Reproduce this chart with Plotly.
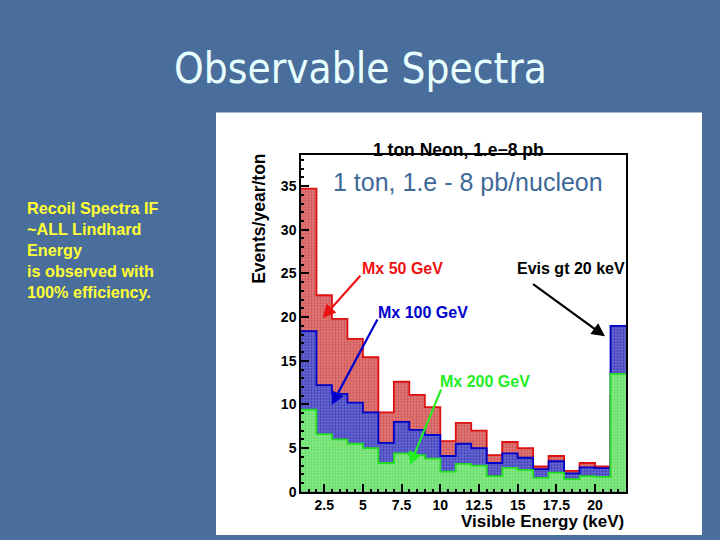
import plotly.graph_objects as go

# Bin lower edges (keV); last bin is overflow "Evis gt 20 keV"
bin_edges = [1, 2, 3, 4, 5, 6, 7, 8, 9, 10, 11, 12, 13, 14, 15, 16, 17, 18, 19, 20, 21, 22]

mx50 = [34.7, 22.5, 19.8, 17.5, 15.4, 9.1, 12.6, 11.1, 9.7, 5.8, 7.9, 7.0,
        4.2, 5.7, 5.0, 2.9, 4.1, 2.4, 3.3, 2.9, 11.0]
mx100 = [18.4, 12.2, 11.2, 10.2, 9.1, 5.6, 8.0, 7.1, 6.5, 4.1, 5.5, 5.0,
         3.3, 4.4, 3.9, 2.6, 3.5, 2.1, 2.8, 2.7, 19.0]
mx200 = [9.4, 6.6, 6.0, 5.5, 5.0, 3.3, 4.4, 4.2, 3.8, 2.3, 3.2, 3.0,
         1.8, 2.75, 2.5, 1.6, 2.2, 1.45, 1.8, 1.7, 13.5]

x_ticks = [2.5, 5, 7.5, 10, 12.5, 15, 17.5, 20]
x_tick_labels = ["2.5", "5", "7.5", "10", "12.5", "15", "17.5", "20"]
y_ticks = [0, 5, 10, 15, 20, 25, 30, 35]

W, H = 720, 540
FIG_H = 550
BG = "#4a6e9b"


def px(xp):
    return xp / W


def py(yp):
    return 1 - yp / H


fig = go.Figure()

series = [
    ("Mx 50 GeV", mx50, "#dd1111", "#c01818", "#e48c8c"),
    ("Mx 100 GeV", mx100, "#0000c8", "#000080", "#7c7ce6"),
    ("Mx 200 GeV", mx200, "#22dd22", "#2ec42e", "#98f098"),
]
for name, vals, lc, fg, bg in series:
    xs = bin_edges
    ys = vals + [vals[-1]]
    fig.add_trace(go.Scatter(
        x=xs, y=ys, mode="lines", line=dict(shape="hv", color=lc, width=1.8),
        fill="tozeroy", fillcolor=bg,
        fillpattern=dict(shape=".", fgcolor=fg, bgcolor=bg, size=3, solidity=0.6),
        name=name, showlegend=False, hoverinfo="skip"))

tick_font = dict(family="Liberation Sans", size=14, color="black", weight="bold")

fig.update_xaxes(
    range=[1, 22], tickvals=x_ticks, ticktext=x_tick_labels,
    domain=[px(301), px(626)],
    showline=True, linecolor="black", linewidth=1.5, mirror=True,
    ticks="inside", ticklen=8, tickcolor="black", tickwidth=1.5,
    minor=dict(dtick=0.5, ticks="inside", ticklen=3, tickcolor="black"),
    showgrid=False, zeroline=False, tickfont=tick_font)
fig.update_yaxes(
    range=[0, 38.6], tickvals=y_ticks,
    domain=[py(490), py(154)],
    showline=True, linecolor="black", linewidth=1.5, mirror=True,
    ticks="inside", ticklen=8, tickcolor="black", tickwidth=1.5,
    minor=dict(dtick=1, ticks="inside", ticklen=3, tickcolor="black"),
    showgrid=False, zeroline=False, tickfont=tick_font)

# White image panel
fig.add_shape(type="rect", xref="paper", yref="paper",
              x0=px(216), x1=px(702), y0=py(533), y1=py(112),
              fillcolor="white", line=dict(width=0), layer="below")

C = dict(xanchor="center", yanchor="middle", showarrow=False)
ann = []
# Slide title
ann.append(dict(text="Observable Spectra", xref="paper", yref="paper",
                x=px(360), y=py(68), **C,
                font=dict(family="DejaVu Sans Condensed", size=42, color="#e8ffff")))
# Left text
ann.append(dict(text="Recoil Spectra IF<br>~ALL Lindhard<br>Energy<br>is observed with<br>100% efficiency.",
                xref="paper", yref="paper", x=px(25), y=py(249), xanchor="left", yanchor="middle",
                align="left", showarrow=False,
                font=dict(family="Liberation Sans", size=16.2, color="#ffff33", weight="bold")))
# Histogram title
ann.append(dict(text="1 ton Neon, 1.e\u22128 pb", xref="paper", yref="paper",
                x=px(458), y=py(149), **C,
                font=dict(family="Liberation Sans", size=17.5, color="black", weight="bold")))
# Blue overlay text
ann.append(dict(text="1 ton, 1.e - 8 pb/nucleon", xref="paper", yref="paper",
                x=px(468), y=py(181), **C,
                font=dict(family="Liberation Sans", size=25, color="#3d6a98")))
# Axis titles
ann.append(dict(text="Events/year/ton", xref="paper", yref="paper",
                x=px(259), y=py(218), textangle=-90, **C,
                font=dict(family="Liberation Sans", size=17.5, color="black", weight="bold")))
ann.append(dict(text="Visible Energy (keV)", xref="paper", yref="paper",
                x=px(626), y=py(520), xanchor="right", yanchor="middle", showarrow=False,
                font=dict(family="Liberation Sans", size=17, color="black", weight="bold")))

# Series labels and arrows (data coordinates)
labels = [
    ("Mx 50 GeV", 7.59, 25.6, "#ee1111", (2.40, 19.9), (4.92, 24.9)),
    ("Mx 100 GeV", 8.88, 20.55, "#0000cc", (2.98, 9.95), (5.99, 19.9)),
    ("Mx 200 GeV", 12.89, 12.63, "#22ee22", (8.04, 3.07), (10.09, 11.86)),
    ("Evis gt 20 keV", 18.44, 25.6, "black", (20.64, 17.8), (15.90, 23.9)),
]
for text, lx, ly, col, head, tail in labels:
    ann.append(dict(text=text, x=lx, y=ly, xref="x", yref="y", **C,
                    font=dict(family="Liberation Sans", size=16, color=col, weight="bold")))
    ann.append(dict(text="", x=head[0], y=head[1], xref="x", yref="y",
                    ax=tail[0], ay=tail[1], axref="x", ayref="y",
                    showarrow=True, arrowhead=2, arrowsize=1.2, arrowwidth=2.2,
                    arrowcolor=col))

fig.update_layout(
    width=W, height=FIG_H, margin=dict(l=0, r=0, t=0, b=0),
    paper_bgcolor=BG, plot_bgcolor="white",
    annotations=ann, showlegend=False)

post = (
    "document.documentElement.style.margin='0';"
    "document.documentElement.style.overflow='hidden';"
    "document.body.style.margin='0';document.body.style.overflow='hidden';"
    "var d=document.getElementsByClassName('plotly-graph-div')[0];"
    "d.style.position='fixed';d.style.top='0px';d.style.left='0px';"
)
fig.write_html("out.html", config={"displayModeBar": False}, post_script=post)
